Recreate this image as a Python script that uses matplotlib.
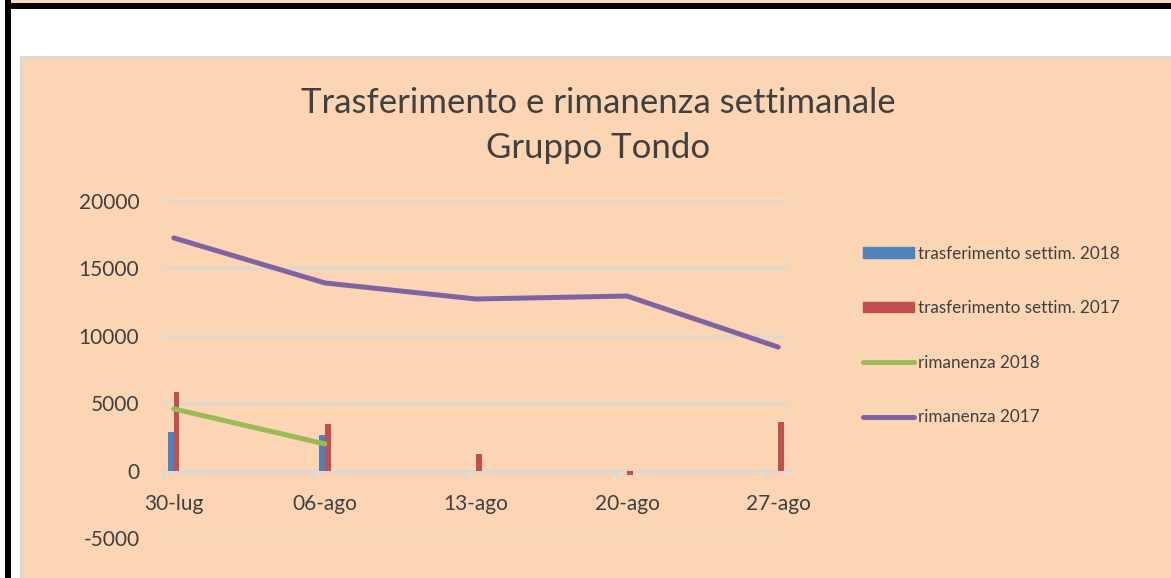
import matplotlib.pyplot as plt
from matplotlib.patches import Rectangle
from matplotlib.lines import Line2D

plt.rcParams['font.family'] = ['Lato', 'DejaVu Sans']

# weeks (day offset from 30-lug) and labels
days = [0, 7, 14, 21, 28]
week_labels = ["30-lug", "06-ago", "13-ago", "20-ago", "27-ago"]

trasf_2018 = [2850, 2620]
trasf_2017 = [5800, 3440, 1260, -300, 3610]
riman_2018 = [4580, 1980]
riman_2017 = [17260, 13920, 12730, 12950, 9160]

y_ticks = [-5000, 0, 5000, 10000, 15000, 20000]

BLUE = "#4F81BD"
RED = "#C0504D"
GREEN = "#9BBB59"
PURPLE = "#8064A2"
PEACH = "#FCD5B5"
GRID = "#D9D9D9"
TEXT = "#404040"

W, H = 1171, 578
fig = plt.figure(figsize=(W / 100, H / 100), dpi=100)

# page decorations: peach strip, black frame lines, chart area box
deco = [
    Rectangle((11 / W, 1 - 3 / H), 1, 3 / H, facecolor=PEACH, edgecolor="none"),
    Rectangle((5 / W, 1 - 9 / H), 1, 6 / H, facecolor="black", edgecolor="none"),
    Rectangle((5 / W, -0.01), 6 / W, 1.01, facecolor="black", edgecolor="none"),
    Rectangle((21 / W, -0.02), 1, 1 - 57 / H + 0.02, facecolor=PEACH,
              edgecolor=GRID, linewidth=1.5),
]
for p in deco:
    p.set_transform(fig.transFigure)
    p.set_zorder(-5)
    fig.patches.append(p)

ax = fig.add_axes([163 / W, 40 / H, 626 / W, 337 / H])
ax.set_facecolor("none")

bw = 0.26
ax.bar([d - bw / 2 for d in days[:len(trasf_2018)]], trasf_2018, width=bw,
       color=BLUE, zorder=2, label="trasferimento settim. 2018")
ax.bar([d + bw / 2 for d in days], trasf_2017, width=bw,
       color=RED, zorder=2, label="trasferimento settim. 2017")
ax.plot(days[:len(riman_2018)], riman_2018, color=GREEN, lw=3.6,
        solid_capstyle="round", zorder=3, label="rimanenza 2018")
ax.plot(days, riman_2017, color=PURPLE, lw=3.6,
        solid_capstyle="round", zorder=3, label="rimanenza 2017")

ax.set_xlim(-0.5, 28.5)
ax.set_ylim(-5000, 20000)
ax.set_yticks(y_ticks)
ax.set_yticklabels([str(v) for v in y_ticks])
ax.grid(axis="y", color=GRID, lw=1.8, zorder=1)
ax.set_axisbelow(True)

for s in ["top", "right", "left"]:
    ax.spines[s].set_visible(False)
ax.spines["bottom"].set_position(("data", 0))
ax.spines["bottom"].set_color(GRID)
ax.spines["bottom"].set_linewidth(1.8)
ax.spines["bottom"].set_zorder(1.5)

ax.set_xticks([d - 0.5 for d in days])
ax.set_xticklabels([])
ax.set_xticks(days, minor=True)
ax.set_xticklabels(week_labels, minor=True)
ax.tick_params(axis="x", which="major", length=6, width=1.8, color=GRID, direction="out")
ax.tick_params(axis="x", which="minor", length=0, pad=17, labelsize=15, labelcolor=TEXT)
ax.tick_params(axis="y", length=0, pad=17, labelsize=15, labelcolor=TEXT)

fig.text(598 / W, 1 - 103 / H, "Trasferimento e rimanenza settimanale",
         ha="center", va="center", fontsize=25, color=TEXT)
fig.text(598 / W, 1 - 148 / H, "Gruppo Tondo",
         ha="center", va="center", fontsize=25, color=TEXT)

handles = [Rectangle((0, 0), 1, 1, color=BLUE), Rectangle((0, 0), 1, 1, color=RED),
           Line2D([], [], color=GREEN, lw=3.6, solid_capstyle="round"),
           Line2D([], [], color=PURPLE, lw=3.6, solid_capstyle="round")]
labels = ["trasferimento settim. 2018", "trasferimento settim. 2017",
          "rimanenza 2018", "rimanenza 2017"]
leg = fig.legend(handles, labels, loc="center left", bbox_to_anchor=(863 / W, 1 - 335.5 / H),
                 frameon=False, fontsize=12.3, handlelength=3.0, handleheight=0.55,
                 handletextpad=0.2, labelspacing=2.26, borderpad=0, borderaxespad=0)
for t in leg.get_texts():
    t.set_color(TEXT)

fig.savefig("out.png", dpi=100)
